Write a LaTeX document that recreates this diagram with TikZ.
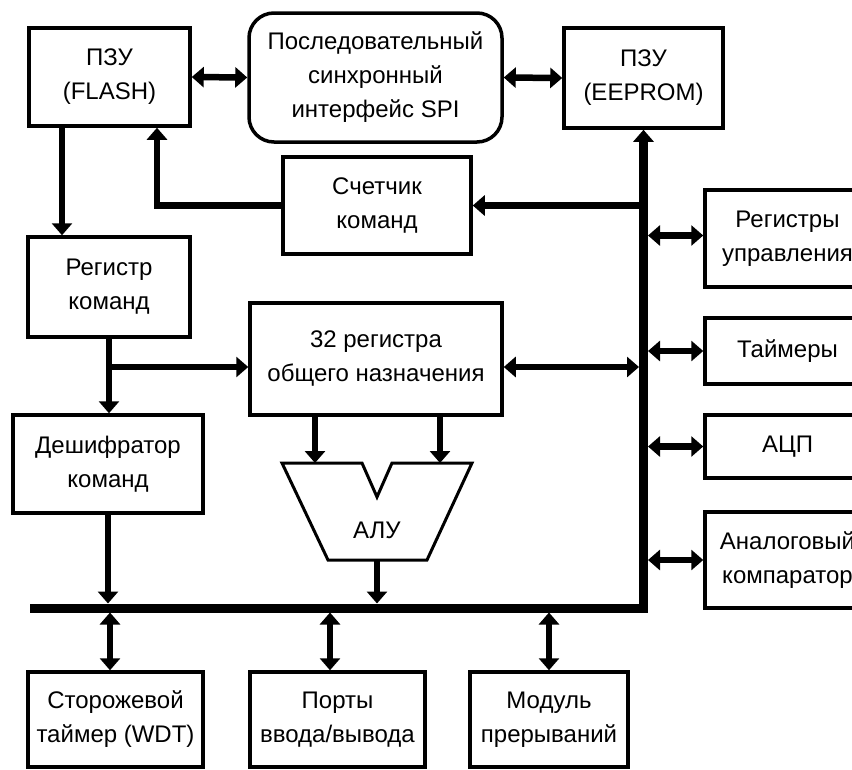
\documentclass[tikz,border=0pt]{standalone}
\usepackage{fontspec}
\setmainfont{Liberation Sans}
\usetikzlibrary{arrows.meta,calc}
\begin{document}
\begin{tikzpicture}[x=1pt,y=-1pt,
  >={Triangle[length=12pt,width=20pt]},
  box/.style={draw, line width=3.5pt, align=center, inner sep=0pt,
    font=\fontsize{24}{34}\selectfont},
  conn/.style={line width=6.5pt},
  bus/.style={line width=9pt, line join=miter},
  lbl/.style={font=\fontsize{24}{34}\selectfont, inner sep=0pt}]
\useasboundingbox (0,0) rectangle (852,769);

% top row
\node[box, minimum width=161pt, minimum height=98pt] (flash) at (109.5,77) {ПЗУ\\(FLASH)};
\node[box, rounded corners=25pt, minimum width=253pt, minimum height=129pt] (spi) at (375.5,77.5) {Последовательный\\синхронный\\интерфейс SPI};
\node[box, minimum width=159pt, minimum height=100pt] (eeprom) at (643.5,78) {ПЗУ\\(EEPROM)};

\node[box, minimum width=188pt, minimum height=97pt] (counter) at (377,205.5) {Счетчик\\команд};
\node[box, minimum width=162pt, minimum height=100pt] (ireg) at (109,287) {Регистр\\команд};
\node[box, minimum width=252pt, minimum height=112pt] (gpr) at (376,359) {32 регистра\\общего назначения};
\node[box, minimum width=190pt, minimum height=98pt] (dec) at (108,464) {Дешифратор\\команд};

% right column
\node[box, minimum width=165pt, minimum height=97pt] (ctrl) at (787.5,238.5) {Регистры\\управления};
\node[box, minimum width=165pt, minimum height=66pt] (timers) at (787.5,351) {Таймеры};
\node[box, minimum width=165pt, minimum height=63pt] (adc) at (787.5,446.5) {АЦП};
\node[box, minimum width=165pt, minimum height=96pt] (cmp) at (787.5,560) {Аналоговый\\компаратор};

% bottom row
\node[box, minimum width=175pt, minimum height=95pt] (wdt) at (115.5,719.5) {Сторожевой\\таймер (WDT)};
\node[box, minimum width=175pt, minimum height=95pt] (ports) at (337.5,719.5) {Порты\\ввода/вывода};
\node[box, minimum width=158pt, minimum height=95pt] (irq) at (549,719.5) {Модуль\\прерываний};

% ALU
\coordinate (aluTL) at (282,463);
\coordinate (aluN1) at (362,463);
\coordinate (aluV) at (377,497);
\coordinate (aluN2) at (392,463);
\coordinate (aluTR) at (472,463);
\coordinate (aluBR) at (427,560);
\coordinate (aluBL) at (328,560);
\coordinate (aluB) at (377,560);
\draw[line width=3pt, line join=miter] (aluTL) -- (aluN1) -- (aluV) -- (aluN2) -- (aluTR) -- (aluBR) -- (aluBL) -- cycle;
\node[lbl] (alu) at (377,530) {АЛУ};

% bus
\coordinate (busL) at (30,608);
\coordinate (busC) at (643.5,608);
\draw[bus,->] (busL) -- (busC) -- (eeprom.south);

% connectors
\draw[conn,<->] (flash.east) -- (spi.west);
\draw[conn,<->] (spi.east) -- (eeprom.west);
\draw[conn,->] (62,0 |- flash.south) -- (62,0 |- ireg.north);
\draw[conn,->] (counter.west) -| (157,0 |- flash.south);
\draw[conn,->] ($(counter.east -| eeprom.south)+(-4.5,0)$) -- (counter.east);
\draw[conn,->] (ireg.south) -- (ireg.south |- dec.north);
\draw[conn,->] ($(ireg.south |- gpr.west)+(0,8)$) -- ($(gpr.west)+(0,8)$);
\draw[conn,<->] ($(gpr.east)+(0,8)$) -- ($(gpr.east -| eeprom.south)+(-4.5,8)$);
\draw[conn,->] (315,0 |- gpr.south) -- (315,0 |- aluTL);
\draw[conn,->] (440,0 |- gpr.south) -- (440,0 |- aluTR);
\draw[conn,->] (aluB) -- ($(aluB |- busL)+(0,-4.5)$);
\draw[conn,->] (dec.south) -- ($(dec.south |- busL)+(0,-4.5)$);
\draw[conn,<->] ($(110,0 |- busL)+(0,4.5)$) -- (110,0 |- wdt.north);
\draw[conn,<->] ($(330,0 |- busL)+(0,4.5)$) -- (330,0 |- ports.north);
\draw[conn,<->] ($(irq.north |- busL)+(0,4.5)$) -- (irq.north);

\draw[conn,<->] ($(ctrl.west -| eeprom.south)+(4.5,-3)$) -- ($(ctrl.west)+(0,-3)$);
\draw[conn,<->] ($(timers.west -| eeprom.south)+(4.5,0)$) -- (timers.west);
\draw[conn,<->] ($(adc.west -| eeprom.south)+(4.5,0)$) -- (adc.west);
\draw[conn,<->] ($(cmp.west -| eeprom.south)+(4.5,0)$) -- (cmp.west);
\end{tikzpicture}
\end{document}
